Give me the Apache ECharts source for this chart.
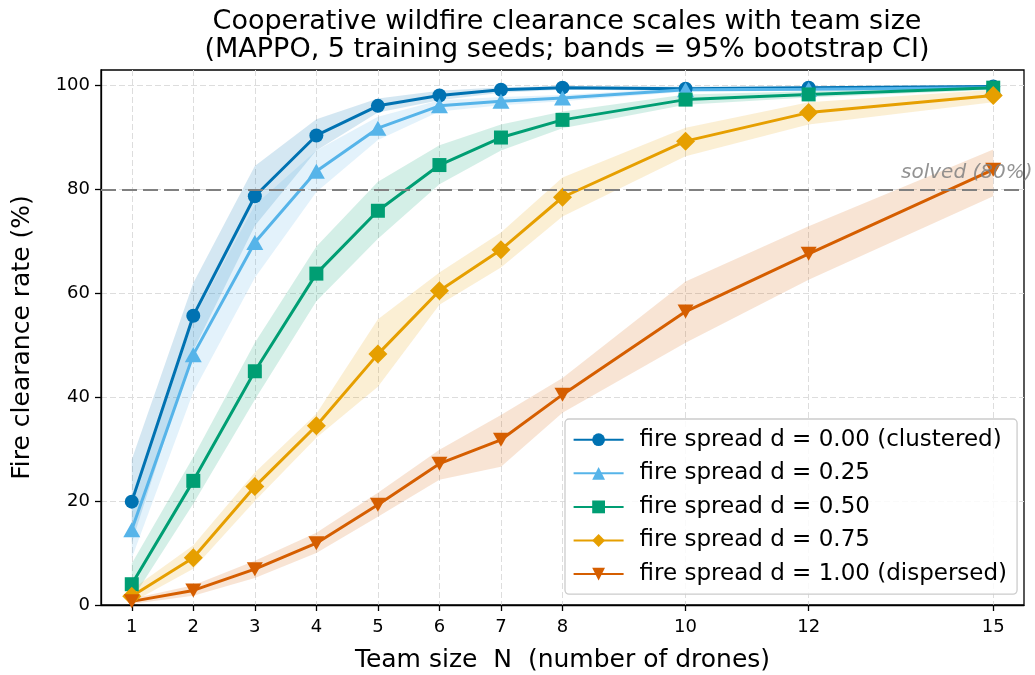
<!DOCTYPE html>
<html>
<head>
<meta charset="utf-8">
<script src="https://cdn.jsdelivr.net/npm/echarts@6/dist/echarts.min.js"></script>
<style>
  html, body { margin: 0; padding: 0; background: #fff; }
  #chart { width: 1035px; height: 675px; }
</style>
</head>
<body>
<div id="chart"></div>
<script>
// Team sizes (number of drones) evaluated
const teamSizes = [1, 2, 3, 4, 5, 6, 7, 8, 10, 12, 15];
const xTicks = [1, 2, 3, 4, 5, 6, 7, 8, 10, 12, 15];
const yTicks = [0, 20, 40, 60, 80, 100];

const seriesNames = [
  'fire spread d = 0.00 (clustered)',
  'fire spread d = 0.25',
  'fire spread d = 0.50',
  'fire spread d = 0.75',
  'fire spread d = 1.00 (dispersed)'
];

// Mean fire clearance rate (%) across seeds, with 95% bootstrap CI bounds
const meanD000 = [19.9, 55.7, 78.7, 90.4, 96.1, 98.1, 99.2, 99.6, 99.4, 99.6, 99.8];
const lowD000  = [12.0, 49.0, 73.0, 87.5, 94.8, 97.2, 98.6, 99.2, 99.0, 99.3, 99.6];
const highD000 = [28.0, 62.0, 84.5, 93.5, 97.5, 99.0, 99.7, 99.9, 99.8, 99.9, 100.0];

const meanD025 = [14.5, 48.2, 69.8, 83.5, 91.8, 96.1, 97.0, 97.6, 99.2, 99.3, 99.6];
const lowD025  = [9.0, 41.0, 63.0, 79.5, 89.5, 95.0, 96.2, 97.0, 98.8, 99.0, 99.3];
const highD025 = [21.0, 55.0, 77.0, 87.5, 94.0, 97.2, 97.8, 98.2, 99.6, 99.6, 99.9];

const meanD050 = [4.0, 23.9, 45.0, 63.8, 75.9, 84.7, 90.0, 93.4, 97.3, 98.3, 99.6];
const lowD050  = [1.0, 19.5, 39.5, 58.5, 70.5, 81.0, 87.5, 91.8, 96.3, 97.7, 99.2];
const highD050 = [8.0, 28.5, 50.5, 69.0, 81.5, 88.5, 92.5, 95.0, 98.3, 98.9, 100.0];

const meanD075 = [1.7, 9.1, 22.8, 34.5, 48.3, 60.5, 68.4, 78.5, 89.3, 94.8, 98.1];
const lowD075  = [0.5, 7.0, 20.0, 32.2, 42.0, 57.8, 65.0, 74.8, 86.4, 92.5, 96.8];
const highD075 = [3.0, 11.5, 25.5, 36.8, 55.0, 64.0, 71.7, 82.3, 91.9, 96.8, 99.2];

const meanD100 = [0.7, 2.8, 6.9, 11.9, 19.3, 27.2, 31.8, 40.5, 56.5, 67.6, 83.8];
const lowD100  = [0.2, 1.8, 5.2, 10.0, 17.0, 24.1, 26.6, 37.0, 50.5, 62.6, 78.7];
const highD100 = [1.2, 3.8, 8.5, 13.9, 21.6, 29.9, 36.6, 43.7, 62.3, 72.9, 87.7];

const solvedThreshold = 80;

const colors = ['#0072B2', '#56B4E9', '#009E73', '#E69F00', '#D55E00'];
const means = [meanD000, meanD025, meanD050, meanD075, meanD100];
const lows = [lowD000, lowD025, lowD050, lowD075, lowD100];
const highs = [highD000, highD025, highD050, highD075, highD100];
const symbols = ['circle', 'triangle', 'rect', 'diamond', 'path://M0,0 L10,0 L5,9 Z'];
const symbolSizes = [14, [17, 15], 14, [19, 19], [16, 14]];

const FONT = 'DejaVu Sans';

// Confidence band drawn as a polygon through the axis scales
function bandSeries(i) {
  return {
    type: 'custom',
    name: 'band' + i,
    coordinateSystem: 'cartesian2d',
    z: 1,
    silent: true,
    data: [[teamSizes[0], lows[i][0]]],
    renderItem: function (params, api) {
      const pts = [];
      for (let k = 0; k < teamSizes.length; k++) pts.push(api.coord([teamSizes[k], highs[i][k]]));
      for (let k = teamSizes.length - 1; k >= 0; k--) pts.push(api.coord([teamSizes[k], lows[i][k]]));
      return {
        type: 'polygon',
        shape: { points: pts },
        style: { fill: colors[i], opacity: 0.17 }
      };
    }
  };
}

function lineSeries(i) {
  return {
    type: 'line',
    name: seriesNames[i],
    data: teamSizes.map((x, k) => [x, means[i][k]]),
    symbol: symbols[i],
    symbolSize: symbolSizes[i],
    showAllSymbol: true,
    z: 3,
    lineStyle: { color: colors[i], width: 3 },
    itemStyle: { color: colors[i], borderWidth: 0 },
    emphasis: { disabled: true }
  };
}

const series = [];
for (let i = 0; i < 5; i++) series.push(bandSeries(i));
// Dashed "solved" threshold line
series.push({
  type: 'line',
  name: 'threshold',
  data: [],
  z: 2,
  markLine: {
    silent: true,
    symbol: ['none', 'none'],
    label: { show: false },
    lineStyle: { color: '#808080', type: [15, 6], width: 2 },
    data: [{ yAxis: solvedThreshold }]
  }
});
for (let i = 0; i < 5; i++) series.push(lineSeries(i));

// Caption of the threshold, attached to the topmost line series
series[series.length - 1].markPoint = {
  silent: true,
  symbol: 'circle',
  symbolSize: 1,
  itemStyle: { color: 'rgba(0,0,0,0)' },
  label: {
    show: true,
    position: 'left',
    distance: 0,
    offset: [9, 0],
    formatter: 'solved (80%)',
    fontFamily: FONT,
    fontStyle: 'italic',
    fontSize: 20,
    color: 'rgba(128,128,128,0.85)'
  },
  data: [{ coord: [15.5, solvedThreshold + 3.2] }]
};

const chart = echarts.init(document.getElementById('chart'), null, { renderer: 'canvas' });
chart.setOption({
  animation: false,
  backgroundColor: '#ffffff',
  textStyle: { fontFamily: FONT },
  title: {
    text: 'Cooperative wildfire clearance scales with team size\n(MAPPO, 5 training seeds; bands = 95% bootstrap CI)',
    left: 562,
    top: 3,
    textAlign: 'center',
    textStyle: { fontFamily: FONT, fontSize: 27, fontWeight: 'normal', color: '#000', lineHeight: 28 }
  },
  grid: {
    left: 101, right: 11, top: 70, bottom: 70,
    outerBoundsMode: 'none',
    containLabel: false,
    show: true, borderColor: '#000', borderWidth: 1.3, backgroundColor: 'transparent'
  },
  legend: {
    data: seriesNames,
    orient: 'vertical',
    left: 565,
    top: 419,
    itemWidth: 50,
    itemHeight: 16,
    itemGap: 9.6,
    padding: [8.7, 10, 8, 7.6],
    backgroundColor: 'rgba(255,255,255,0.85)',
    borderColor: '#cccccc',
    borderWidth: 1.3,
    borderRadius: 4,
    textStyle: { fontFamily: FONT, fontSize: 23, color: '#000', lineHeight: 24, padding: [0, 0, 0, 11] }
  },
  xAxis: {
    type: 'value',
    min: 0.5,
    max: 15.5,
    name: 'Team size  N  (number of drones)',
    nameLocation: 'middle',
    nameGap: 43,
    nameTextStyle: { fontFamily: FONT, fontSize: 25, color: '#000' },
    axisLine: { show: true, lineStyle: { color: '#000', width: 1.3 } },
    axisTick: { show: true, length: 6, inside: false, customValues: xTicks, lineStyle: { color: '#000', width: 1.3 } },
    axisLabel: { customValues: xTicks, fontFamily: FONT, fontSize: 18, color: '#000', margin: 13 },
    splitLine: { show: true, lineStyle: { color: '#dddddd', type: [6, 3], width: 1 } }
  },
  yAxis: {
    type: 'value',
    min: 0,
    max: 103,
    name: 'Fire clearance rate (%)',
    nameLocation: 'middle',
    nameGap: 66,
    nameTextStyle: { fontFamily: FONT, fontSize: 25, color: '#000' },
    axisLine: { show: true, lineStyle: { color: '#000', width: 1.3 } },
    axisTick: { show: true, length: 6, inside: false, customValues: yTicks, lineStyle: { color: '#000', width: 1.3 } },
    axisLabel: { customValues: yTicks, fontFamily: FONT, fontSize: 18, color: '#000', margin: 11 },
    splitLine: { show: true, lineStyle: { color: '#dddddd', type: [6, 3], width: 1 } }
  },
  series: series
});
</script>
</body>
</html>
